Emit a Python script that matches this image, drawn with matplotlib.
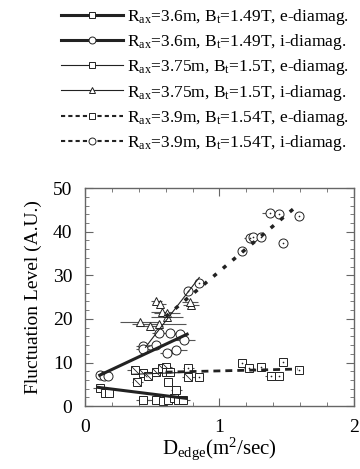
import numpy as np
import matplotlib
matplotlib.use('Agg')
import matplotlib.pyplot as plt
from matplotlib.path import Path
from matplotlib.lines import Line2D

plt.rcParams['font.family'] = ['Liberation Serif', 'DejaVu Serif']
plt.rcParams['mathtext.fontset'] = 'custom'
plt.rcParams['mathtext.rm'] = 'Liberation Serif'
plt.rcParams['mathtext.it'] = 'Liberation Serif:italic'

# Rax=3.6m e-diamag (squares)
x1 = [0.11, 0.15, 0.18, 0.43, 0.53, 0.58, 0.62, 0.66, 0.69, 0.73, 0.68, 0.62]
y1 = [4.1, 3.0, 3.0, 1.5, 1.4, 1.2, 1.4, 1.8, 1.4, 1.3, 3.8, 5.5]
e1 = [0.05, 0.03, 0.03, 0.05, 0.08, 0.06, 0.05, 0.05, 0.06, 0.05, 0.04, 0.03]
fx1 = [0.10, 0.75]
fy1 = [4.3, 1.8]

# Rax=3.6m i-diamag (circles)
x2 = [0.11, 0.14, 0.17, 0.43, 0.43, 0.53, 0.55, 0.63, 0.71, 0.74, 0.61, 0.68]
y2 = [7.2, 7.0, 7.0, 13.8, 13.0, 14.0, 16.7, 16.7, 16.5, 15.2, 12.1, 12.9]
e2 = [0.03, 0.03, 0.03, 0.05, 0.05, 0.06, 0.05, 0.06, 0.05, 0.08, 0.05, 0.08]
fx2 = [0.11, 0.76]
fy2 = [7.1, 16.5]

# Rax=3.75m e-diamag (slashed squares)
x3 = [0.37, 0.39, 0.43, 0.47, 0.53, 0.57, 0.60, 0.77]
y3 = [8.3, 5.6, 7.5, 7.0, 7.9, 8.7, 9.0, 6.7]
e3 = [0.06, 0.04, 0.05, 0.05, 0.08, 0.06, 0.05, 0.05]
fx3 = [0.35, 0.80]
fy3 = [7.3, 7.8]

# Rax=3.75m i-diamag (triangles)
x4 = [0.41, 0.48, 0.55, 0.53, 0.56, 0.57, 0.61, 0.61, 0.79, 0.78]
y4 = [19.2, 18.4, 18.8, 24.0, 23.5, 21.7, 20.5, 21.3, 23.2, 23.8]
e4 = [0.15, 0.10, 0.20, 0.04, 0.04, 0.08, 0.12, 0.10, 0.06, 0.06]
fx4 = [0.45, 0.85]
fy4 = [13.5, 29.5]

# Rax=3.9m e-diamag (dotted squares)
x5 = [0.60, 0.63, 0.77, 0.85, 1.17, 1.22, 1.31, 1.38, 1.44, 1.47, 1.59]
y5 = [7.9, 7.9, 8.7, 6.6, 10.0, 8.8, 8.9, 6.9, 6.9, 10.2, 8.4]
e5 = [0.03, 0.05, 0.04, 0.03, 0.03, 0.04, 0.03, 0.04, 0.03, 0.03, 0.03]
fx5 = [0.60, 1.58]
fy5 = [7.8, 8.5]

# Rax=3.9m i-diamag (dotted circles)
x6 = [0.77, 0.85, 1.17, 1.23, 1.25, 1.31, 1.375, 1.44, 1.47, 1.59]
y6 = [26.3, 28.2, 35.5, 38.5, 38.8, 38.7, 44.3, 44.0, 37.4, 43.7]
e6 = [0.03, 0.03, 0.03, 0.05, 0.03, 0.03, 0.06, 0.03, 0.03, 0.03]
fx6 = [0.60, 1.58]
fy6 = [20.5, 46.0]

labels = [r'R$_{\mathrm{ax}}$=3.6m, B$_{\mathrm{t}}$=1.49T, e-diamag.',
          r'R$_{\mathrm{ax}}$=3.6m, B$_{\mathrm{t}}$=1.49T, i-diamag.',
          r'R$_{\mathrm{ax}}$=3.75m, B$_{\mathrm{t}}$=1.5T, e-diamag.',
          r'R$_{\mathrm{ax}}$=3.75m, B$_{\mathrm{t}}$=1.5T, i-diamag.',
          r'R$_{\mathrm{ax}}$=3.9m, B$_{\mathrm{t}}$=1.54T, e-diamag.',
          r'R$_{\mathrm{ax}}$=3.9m, B$_{\mathrm{t}}$=1.54T, i-diamag.']

slash = Path([(-1, 1), (1, -1)], [Path.MOVETO, Path.LINETO])
ink = '#222222'

fig = plt.figure(figsize=(3.6, 4.69), dpi=100)
ax = fig.add_axes([0.236, 0.134, 0.747, 0.465])

def pts(x, y, e, marker, ms, extra=None):
    ax.errorbar(x, y, xerr=e, fmt='none', ecolor='#555555', elinewidth=0.8)
    ax.plot(x, y, marker, ms=ms, mfc='white', mec=ink, mew=0.7, ls='none')
    if extra is not None:
        ax.plot(x, y, marker=extra[0], ms=extra[1], color=ink, mew=0.6, ls='none')

pts(x1, y1, e1, 's', 5.5)
pts(x2, y2, e2, 'o', 6.5)
pts(x3, y3, e3, 's', 5.5, (slash, 5.5))
pts(x4, y4, e4, '^', 6)
pts(x5, y5, e5, 's', 5.5, ('.', 1.2))
pts(x6, y6, e6, 'o', 6.5, ('.', 1.2))

ax.plot(fx1, fy1, color=ink, lw=2.2)
ax.plot(fx2, fy2, color=ink, lw=2.2)
ax.plot(fx3, fy3, color=ink, lw=0.8)
ax.plot(fx4, fy4, color=ink, lw=0.8)
ax.plot(fx5, fy5, color=ink, lw=2.0, dashes=(2.5, 1.8))
ax.plot(fx6, fy6, color=ink, lw=2.5, dashes=(1.2, 2.4))

ax.set_xlim(0, 2)
ax.set_ylim(0, 50)
ax.set_xticks([0, 1, 2])
ax.set_xticks(np.arange(0, 2.01, 0.2), minor=True)
ax.set_yticks([0, 10, 20, 30, 40, 50])
ax.set_yticks(np.arange(0, 51, 2), minor=True)
ax.tick_params(which='both', direction='in', top=True, right=True, color='#666666')
ax.tick_params(which='major', length=6, labelsize=14, pad=9)
ax.tick_params(which='minor', length=3)
for s in ax.spines.values():
    s.set_color('#666666')
    s.set_linewidth(1.0)

ax.set_xlabel(r'D$_{\mathrm{edge}}$(m$^{2}$/sec)', fontsize=15, labelpad=0)
ax.set_ylabel('Fluctuation Level (A.U.)', fontsize=14, labelpad=8)

# legend handles
h = [Line2D([], [], color=ink, lw=2.2, marker='s', ms=5, mfc='white', mew=0.7),
     Line2D([], [], color=ink, lw=2.2, marker='o', ms=5, mfc='white', mew=0.7),
     Line2D([], [], color=ink, lw=0.8, marker='s', ms=5, mfc='white', mew=0.7),
     Line2D([], [], color=ink, lw=0.8, marker='^', ms=5, mfc='white', mew=0.7),
     Line2D([], [], color=ink, lw=1.5, ls=(0, (2, 1.5)), marker='s', ms=5, mfc='white', mew=0.7),
     Line2D([], [], color=ink, lw=1.5, ls=(0, (2, 1.5)), marker='o', ms=5, mfc='white', mew=0.7)]
fig.legend(h, labels, loc='upper left', bbox_to_anchor=(0.15, 1.0), frameon=False,
           fontsize=12.5, handlelength=3.6, handletextpad=0.2, labelspacing=0.3,
           borderaxespad=0)

plt.savefig('out.png', dpi=100)
